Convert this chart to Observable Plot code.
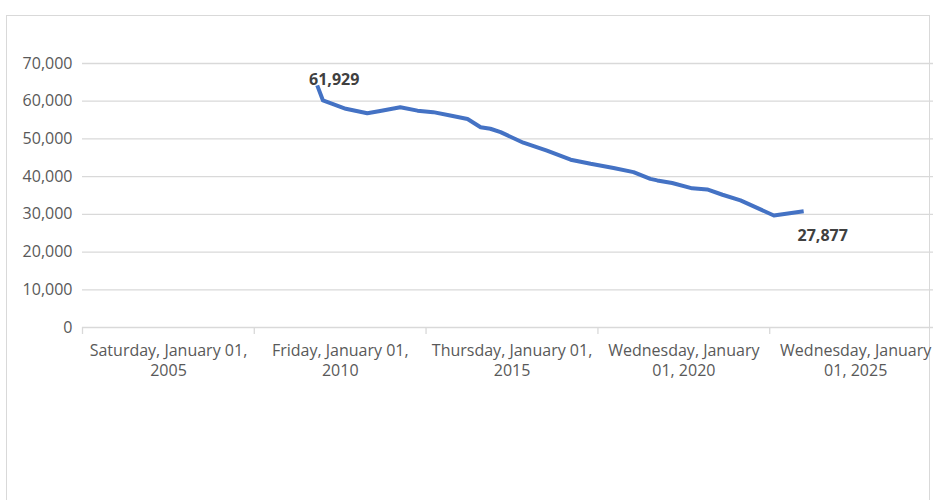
<!DOCTYPE html>
<html><head><meta charset="utf-8">
<script src="https://cdn.jsdelivr.net/npm/d3@7"></script>
<script src="https://cdn.jsdelivr.net/npm/@observablehq/plot@0.6"></script>
<style>
body{margin:0;background:#fff;overflow:hidden;width:933px;height:500px;}
#frame{position:absolute;left:6px;top:15px;width:924px;height:520px;border:1px solid #d9d9d9;box-sizing:border-box;}
#chart{position:absolute;left:0;top:0;}
</style></head><body><div id="frame"></div><div id="chart"></div>
<script>
const dates = ["2009-05-01","2009-07-01","2010-03-01","2010-10-15","2011-03-01","2011-10-01","2012-04-01","2012-09-15",
  "2013-03-15","2013-09-15","2014-02-01","2014-05-15","2014-09-01","2015-05-01","2016-01-07","2016-09-15",
  "2017-04-15","2017-12-15","2018-07-15","2019-01-10","2019-03-25","2019-08-30","2020-03-30","2020-09-05",
  "2021-02-15","2021-08-25","2022-08-15","2023-06-28"];
const values = [64200,60200,58000,56800,57400,58400,57500,57100,
  56200,55300,53100,52700,51800,49000,46900,44500,
  43400,42300,41200,39400,39000,38300,36900,36600,
  35200,33700,29700,30800];
const endLabels = ["61,929","27,877"];
const yTicks = [0,10000,20000,30000,40000,50000,60000,70000];
const tickDates = ["2005-01-01","2010-01-01","2015-01-01","2020-01-01","2025-01-01"];
const tickLabels = ["Saturday, January 01,\n2005","Friday, January 01,\n2010","Thursday, January 01,\n2015","Wednesday, January\n01, 2020","Wednesday, January\n01, 2025"];
const boundaryDates = ["2002-07-02","2007-07-02","2012-07-01","2017-07-02","2022-07-02","2027-07-02"];

const data = dates.map((d,i)=>({date:new Date(d), value:values[i]}));
const first = [{...data[0], text:endLabels[0]}];
const last = [{...data[data.length-1], text:endLabels[1]}];
const ticks = tickDates.map((d,i)=>({date:new Date(d), label:tickLabels[i]}));

const chart = Plot.plot({
  width: 933, height: 500,
  marginLeft: 82, marginRight: 0, marginTop: 63, marginBottom: 173,
  style: {fontFamily: "'Open Sans', sans-serif", background: "transparent", overflow: "hidden"},
  x: {type: "utc", domain: [new Date("2002-07-02"), new Date("2027-07-02")], range: [82, 941], axis: null},
  y: {domain: [0, 70000], axis: null},
  marks: [
    Plot.ruleY(yTicks, {stroke: "#d9d9d9", strokeWidth: 1.3}),
    Plot.axisY(yTicks, {tickSize: 0, tickPadding: 10, tickFormat: d3.format(","), color: "#595959", fontSize: 16, label: null}),
    Plot.axisX(boundaryDates.map(d=>new Date(d)), {tickSize: 7, tickFormat: () => "", stroke: "#d9d9d9", strokeWidth: 1.3, label: null}),
    Plot.text(ticks, {x: "date", frameAnchor: "bottom", text: "label", dy: 32, lineAnchor: "middle", lineHeight: 1.25, fontSize: 16, fill: "#595959"}),
    Plot.line(data, {x: "date", y: "value", stroke: "#4472c4", strokeWidth: 4, strokeLinejoin: "round", strokeLinecap: "butt"}),
    Plot.text(first, {x: "date", y: "value", text: "text", dx: 17, dy: -5, fontWeight: "bold", fontSize: 16, fill: "#404040"}),
    Plot.text(last, {x: "date", y: "value", text: "text", dx: 19, dy: 25, fontWeight: "bold", fontSize: 16, fill: "#404040"})
  ]
});
document.getElementById("chart").appendChild(chart);
</script>
</body></html>
